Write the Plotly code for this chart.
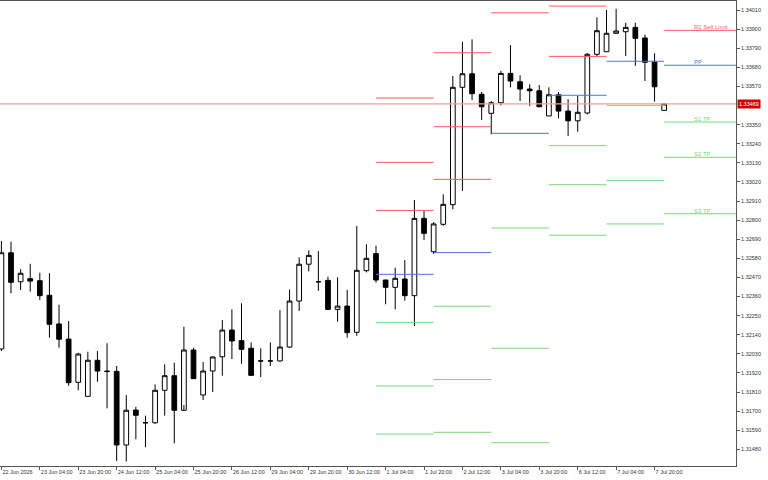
import plotly.graph_objects as go

# ---- data (4H candles, 22 Jun 2026 12:00 .. 8 Jul 2026 00:00) ----
tick_idx = list(range(0, 69, 4))
tick_text = ["22 Jun 2026", "23 Jun 04:00", "23 Jun 20:00", "24 Jun 12:00", "25 Jun 04:00",
             "25 Jun 20:00", "26 Jun 12:00", "29 Jun 04:00", "29 Jun 20:00", "30 Jun 12:00",
             "1 Jul 04:00", "1 Jul 20:00", "2 Jul 12:00", "3 Jul 04:00", "3 Jul 20:00",
             "6 Jul 12:00", "7 Jul 04:00", "7 Jul 20:00"]

opens = [1.32058, 1.32612, 1.32445, 1.32463, 1.32451, 1.32367, 1.32202, 1.32115, 1.31866, 1.31785,
         1.31993, 1.31931, 1.31929, 1.31505, 1.31706, 1.31633, 1.31633, 1.31820, 1.31904, 1.31705,
         1.32052, 1.31793, 1.31931, 1.32013, 1.32167, 1.32106, 1.32062, 1.31989, 1.31989, 1.31989,
         1.32069, 1.32334, 1.32546, 1.32445, 1.32453, 1.32286, 1.32305, 1.32154, 1.32509, 1.32607,
         1.32455, 1.32413, 1.32461, 1.32365, 1.32810, 1.32618, 1.32776, 1.32889, 1.33565, 1.33643,
         1.33525, 1.33415, 1.33476, 1.33645, 1.33597, 1.33555, 1.33545, 1.33400, 1.33522, 1.33428,
         1.33372, 1.33417, 1.33755, 1.33770, 1.33876, 1.33885, 1.33910, 1.33849, 1.33711, 1.33432]
highs = [1.32680, 1.32676, 1.32518, 1.32549, 1.32497, 1.32494, 1.32313, 1.32219, 1.32036, 1.32042,
         1.32046, 1.32091, 1.31960, 1.31793, 1.31725, 1.31674, 1.31854, 1.31970, 1.31979, 1.32186,
         1.32065, 1.31983, 1.32015, 1.32225, 1.32286, 1.32321, 1.32096, 1.32062, 1.32096, 1.32282,
         1.32401, 1.32586, 1.32626, 1.32622, 1.32474, 1.32471, 1.32398, 1.32766, 1.32661, 1.32653,
         1.32457, 1.32526, 1.32570, 1.32916, 1.32856, 1.32789, 1.32949, 1.33630, 1.33827, 1.33841,
         1.33538, 1.33486, 1.33660, 1.33808, 1.33634, 1.33582, 1.33578, 1.33565, 1.33538, 1.33497,
         1.33516, 1.33762, 1.33968, 1.34010, 1.34017, 1.33937, 1.33937, 1.33868, 1.33761, 1.33469]
lows = [1.32046, 1.32378, 1.32397, 1.32388, 1.32340, 1.32123, 1.32065, 1.31846, 1.31820, 1.31785,
        1.31869, 1.31716, 1.31413, 1.31410, 1.31538, 1.31492, 1.31626, 1.31674, 1.31515, 1.31735,
        1.31887, 1.31764, 1.31810, 1.31904, 1.32000, 1.31973, 1.31902, 1.31896, 1.31960, 1.31985,
        1.32065, 1.32277, 1.32505, 1.32393, 1.32286, 1.32215, 1.32123, 1.32134, 1.32499, 1.32440,
        1.32315, 1.32286, 1.32336, 1.32190, 1.32685, 1.32605, 1.32768, 1.32862, 1.32968, 1.33492,
        1.33377, 1.33294, 1.33461, 1.33565, 1.33486, 1.33457, 1.33450, 1.33400, 1.33386, 1.33284,
        1.33309, 1.33409, 1.33741, 1.33770, 1.33876, 1.33745, 1.33689, 1.33601, 1.33482, 1.33432]
closes = [1.32612, 1.32442, 1.32494, 1.32449, 1.32365, 1.32200, 1.32114, 1.31864, 1.32029, 1.31993,
          1.31931, 1.31928, 1.31505, 1.31705, 1.31676, 1.31633, 1.31820, 1.31904, 1.31705, 1.32052,
          1.31887, 1.31931, 1.32012, 1.32167, 1.32104, 1.32056, 1.31906, 1.31989, 1.31989, 1.32069,
          1.32334, 1.32546, 1.32597, 1.32445, 1.32286, 1.32305, 1.32152, 1.32511, 1.32580, 1.32455,
          1.32413, 1.32465, 1.32365, 1.32810, 1.32724, 1.32778, 1.32891, 1.33565, 1.33643, 1.33528,
          1.33453, 1.33476, 1.33645, 1.33601, 1.33555, 1.33545, 1.33453, 1.33522, 1.33428, 1.33372,
          1.33421, 1.33755, 1.33891, 1.33876, 1.33889, 1.33910, 1.33847, 1.33709, 1.33568, 1.33469]

bid = 1.33469

# daily pivot levels (1 Jul .. 8 Jul)
day_start = [39, 45, 51, 57, 63, 69]
day_end = [45, 51, 57, 63, 69, 77]
R3 = [1.33503, 1.33764, None, None, None, None]
R2 = [1.33133, 1.33338, None, 1.34033, None, None]
R1 = [1.32856, 1.33035, 1.33994, 1.33743, None, 1.33893]
PP = [1.32488, 1.32613, 1.33300, 1.33519, 1.33715, 1.33692]
S1 = [1.32211, 1.32304, 1.32755, 1.33229, 1.33461, 1.33365]
S2 = [1.31845, 1.31882, 1.32062, 1.33004, 1.33029, 1.33162]
S3 = [1.31568, 1.31578, 1.31518, 1.32713, 1.32778, 1.32837]

right_labels = ["R1 Sell Limit", "PP", "S1 TP", "S2 TP", "S3 TP"]

y_ticks = [round(1.31480 + 0.0011 * k, 5) for k in range(24)]
y_ticks = [v for v in y_ticks if abs(v - 1.33460) > 1e-7]

RED = "#ff5a5a"
BLUE = "#4a74d2"
GREEN = "#7ad87a"
FONT = "Liberation Sans"

fig = go.Figure()

# bid line
fig.add_trace(go.Scatter(x=[-1, 78], y=[bid, bid], mode="lines",
                         line=dict(color="#f2a0a0", width=1.2), hoverinfo="skip", showlegend=False))


def seg_trace(levels_list, color):
    xs, ys = [], []
    for levels in levels_list:
        for s, e, v in zip(day_start, day_end, levels):
            if v is None:
                continue
            xs += [s, e, None]
            ys += [v, v, None]
    return go.Scatter(x=xs, y=ys, mode="lines", line=dict(color=color, width=1),
                      hoverinfo="skip", showlegend=False)


fig.add_trace(seg_trace([R3, R2, R1], RED))
fig.add_trace(seg_trace([PP], BLUE))
fig.add_trace(seg_trace([S1, S2, S3], GREEN))

fig.add_trace(go.Candlestick(
    x=list(range(len(opens))), open=opens, high=highs, low=lows, close=closes,
    increasing=dict(line=dict(color="#000000", width=1), fillcolor="#ffffff"),
    decreasing=dict(line=dict(color="#000000", width=1), fillcolor="#000000"),
    whiskerwidth=0, showlegend=False, hoverinfo="skip"))

# right-side level labels (next day)
lab_vals = [R1[-1], PP[-1], S1[-1], S2[-1], S3[-1]]
lab_cols = [RED, BLUE, GREEN, GREEN, GREEN]
for t, v, c in zip(right_labels, lab_vals, lab_cols):
    fig.add_annotation(x=72, y=v, text=t, showarrow=False, xanchor="left", yanchor="bottom",
                       font=dict(family=FONT, size=6, color=c), yshift=-1, borderpad=0)

# current price box
fig.add_annotation(xref="paper", x=1, y=bid, text="%.5f" % bid, showarrow=False,
                   xanchor="left", yanchor="middle", xshift=1,
                   bgcolor="#d00000", font=dict(family=FONT, size=5.5, color="#ffffff"),
                   borderpad=1)

fig.update_layout(
    width=768, height=480,
    margin=dict(l=0, r=32, t=1, b=14, autoexpand=False),
    paper_bgcolor="#ffffff", plot_bgcolor="#ffffff",
    font=dict(family=FONT, size=5.5, color="#333333"),
    showlegend=False,
    boxgap=0.3,
    xaxis=dict(range=[-0.146, 76.48], rangeslider=dict(visible=False),
               tickmode="array", tickvals=tick_idx, ticktext=tick_text,
               ticks="outside", ticklen=3, tickcolor="#555555", tickangle=0,
               ticklabelposition="outside right", automargin=False,
               showgrid=False, zeroline=False, showline=True, linecolor="#555555",
               linewidth=1, mirror=True,
               tickfont=dict(family=FONT, size=5.5, color="#333333")),
    yaxis=dict(range=[1.31384, 1.34062], side="right", automargin=False,
               tickmode="array", tickvals=y_ticks, ticktext=["%.5f" % v for v in y_ticks],
               ticks="outside", ticklen=3, tickcolor="#555555",
               showgrid=False, zeroline=False, showline=True, linecolor="#555555",
               linewidth=1,
               tickfont=dict(family=FONT, size=5.5, color="#333333")),
)

fig.write_html("out.html")
